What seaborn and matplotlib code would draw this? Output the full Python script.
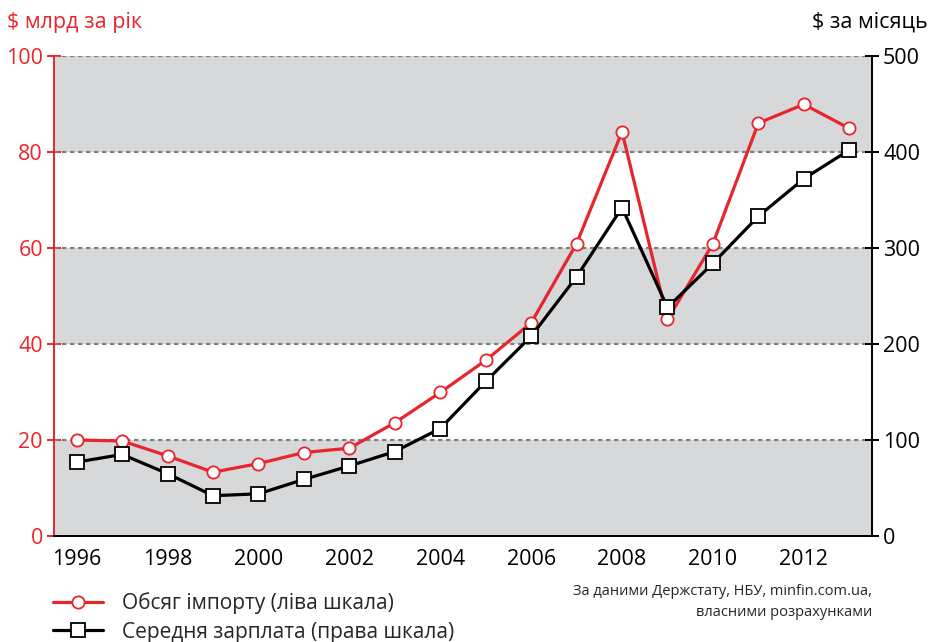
import numpy as np
import pandas as pd
import matplotlib
matplotlib.use("Agg")
import matplotlib.pyplot as plt
import seaborn as sns
from matplotlib.lines import Line2D

# data
years = list(range(1996, 2014))
imports_bn = [20.0, 19.8, 16.7, 13.3, 15.1, 17.4, 18.3, 23.6, 29.9, 36.6,
              44.4, 60.9, 84.2, 45.1, 60.9, 86.0, 89.9, 84.9]
salary_usd = [77, 85, 65, 42, 44, 59, 73, 88, 112, 161,
              208, 270, 342, 238, 284, 333, 372, 402]
year_labels = [str(y) for y in range(1996, 2013, 2)]

df = pd.DataFrame({"year": years, "imports": imports_bn, "salary": salary_usd})

RED = "#e8252b"
BAND = "#d7d8da"

sns.set_style("white")
plt.rcParams["font.family"] = ["Open Sans", "DejaVu Sans"]

fig = plt.figure(figsize=(9.31, 6.42), dpi=100)
ax = fig.add_axes([0.058, 0.165, 0.8786, 0.748])
ax2 = ax.twinx()

# alternating grey bands + dotted grid
for lo in (0, 40, 80):
    ax.axhspan(lo, lo + 20, color=BAND, zorder=0, lw=0)
for yv in (20, 40, 60, 80, 100):
    ax.axhline(yv, color="#808080", lw=1.6, ls=(0, (2.0, 1.6)), zorder=1)

sns.lineplot(data=df, x="year", y="imports", ax=ax, color=RED, lw=2.3,
             marker="o", markersize=8.8, markerfacecolor="white",
             markeredgecolor=RED, markeredgewidth=1.3, zorder=3)
sns.lineplot(data=df, x="year", y="salary", ax=ax2, color="black", lw=2.3,
             marker="s", markersize=9.5, markerfacecolor="white",
             markeredgecolor="black", markeredgewidth=1.3, zorder=3)

ax.set_xlim(1995.5, 2013.5)
ax.set_ylim(0, 100)
ax2.set_ylim(0, 500)
ax.set_xlabel("")
ax.set_ylabel("")
ax2.set_ylabel("")

ax.set_xticks(np.arange(1995.5, 2014, 1), minor=True)
ax.set_xticks(range(1996, 2013, 2))
ax.set_xticklabels(year_labels)
ax.tick_params(axis="x", which="major", length=0, pad=9, labelsize=15.5,
               labelcolor="black")
ax.tick_params(axis="x", which="minor", direction="inout", length=10,
               width=1.4, color="black")
ax.set_yticks(range(0, 101, 20))
ax.tick_params(axis="y", direction="inout", length=10, width=1.4, color=RED,
               labelcolor=RED, labelsize=15.5, pad=3)
ax2.set_yticks(range(0, 501, 100))
ax2.tick_params(axis="y", direction="inout", length=10, width=1.4,
                color="black", labelcolor="black", labelsize=15.5, pad=3)

for s in ("top", "right"):
    ax.spines[s].set_visible(False)
for s in ("top", "left", "bottom"):
    ax2.spines[s].set_visible(False)
ax.spines["left"].set_color(RED)
ax.spines["left"].set_linewidth(1.4)
ax.spines["bottom"].set_color("black")
ax.spines["bottom"].set_linewidth(1.4)
ax2.spines["right"].set_color("black")
ax2.spines["right"].set_linewidth(1.4)

fig.text(0.007, 0.965, "$ млрд за рік", color=RED, fontsize=15.5,
         ha="left", va="center")
fig.text(0.997, 0.965, "$ за місяць", color="black", fontsize=15.5,
         ha="right", va="center")

handles = [
    Line2D([], [], color=RED, lw=2.3, marker="o", markersize=8.8,
           markerfacecolor="white", markeredgecolor=RED, markeredgewidth=1.3),
    Line2D([], [], color="black", lw=2.3, marker="s", markersize=9.5,
           markerfacecolor="white", markeredgecolor="black", markeredgewidth=1.3),
]
fig.legend(handles, ["Обсяг імпорту (ліва шкала)", "Середня зарплата (права шкала)"],
           loc="lower left", bbox_to_anchor=(0.037, -0.03), frameon=False,
           fontsize=15, handlelength=2.4, handletextpad=0.9, labelspacing=0.35)

fig.text(0.937, 0.062, "За даними Держстату, НБУ, minfin.com.ua,\nвласними розрахунками",
         ha="right", va="center", fontsize=10.5, linespacing=1.5)

fig.savefig("out.png", dpi=100)
